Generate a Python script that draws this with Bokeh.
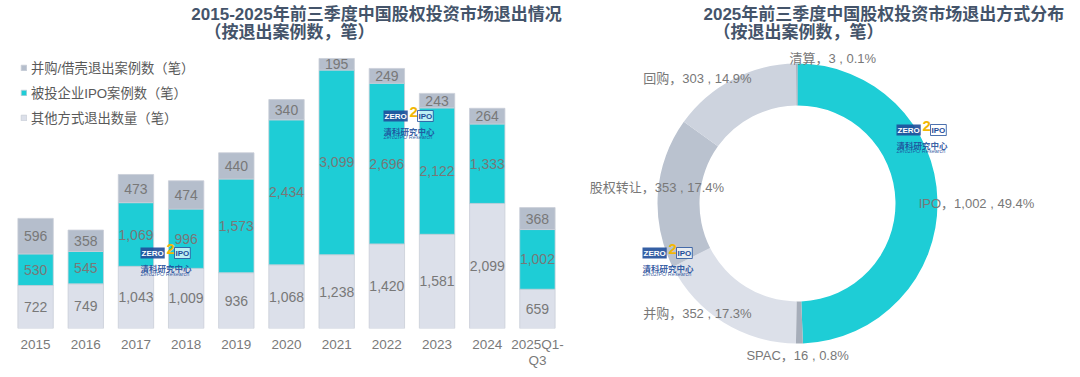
import numpy as np
from bokeh.plotting import figure
from bokeh.models import ColumnDataSource, FactorRange, Range1d, Legend, LegendItem, Label
from bokeh.layouts import row
from bokeh.core.properties import value
from bokeh.embed import file_html
from bokeh.resources import INLINE

# ---------------- data ----------------
years = ["2015", "2016", "2017", "2018", "2019", "2020", "2021", "2022", "2023", "2024", "2025Q1-Q3"]
other_exits = [722, 749, 1043, 1009, 936, 1068, 1238, 1420, 1581, 2099, 659]
ipo_exits = [530, 545, 1069, 996, 1573, 2434, 3099, 2696, 2122, 1333, 1002]
mna_exits = [596, 358, 473, 474, 440, 340, 195, 249, 243, 264, 368]
series_names = ["并购/借壳退出案例数（笔）", "被投企业IPO案例数（笔）", "其他方式退出数量（笔）"]

exit_types = ["IPO", "SPAC", "并购", "股权转让", "回购", "清算"]
exit_counts = [1002, 16, 352, 353, 303, 3]
exit_pcts = ["49.4%", "0.8%", "17.3%", "17.4%", "14.9%", "0.1%"]

title_left = ["2015-2025年前三季度中国股权投资市场退出情况", "（按退出案例数，笔）"]
title_right = ["2025年前三季度中国股权投资市场退出方式分布", "（按退出案例数，笔）"]

# ---------------- styles ----------------
FONT = "Liberation Sans, Noto Sans CJK SC"
C_MNA = "#B5BECC"
C_IPO = "#1ECDD6"
C_OTHER = "#DCE0EA"
TITLE_C = "#44546A"
LAB_C = "#787878"
donut_colors = ["#1ECDD6", "#A6ADB9", "#DCE0E9", "#BAC2CF", "#CDD3DE", "#98A1AF"]
label_offsets = [(29, -3), (-2, -2), (-21, 17), (9, 5), (-31, -8), (36, -5)]

FW1, FH1 = 552, 328   # left frame
FW2, FH2 = 502, 377   # right frame

# axis factors: the long period label wraps onto two lines like the original
factors = [y.replace("Q1-Q3", "Q1-\nQ3") for y in years]


def add_logo(fig, fx, fy):
    blue = "#1F4E9A"
    fig.add_layout(Label(x=fx, y=fy, x_units="screen", y_units="screen", text="ZERO",
                         text_font=FONT, text_font_style="bold", text_font_size="8px",
                         text_color="white", text_baseline="top", text_align="left",
                         background_fill_color=blue, background_fill_alpha=0.9, padding=1))
    fig.add_layout(Label(x=fx + 26, y=fy + 4, x_units="screen", y_units="screen", text="2",
                         text_font=FONT, text_font_style="bold", text_font_size="15px",
                         text_color="#F2B705", text_baseline="top", text_align="left"))
    fig.add_layout(Label(x=fx + 34, y=fy, x_units="screen", y_units="screen", text="IPO",
                         text_font=FONT, text_font_style="bold", text_font_size="8px",
                         text_color=blue, text_baseline="top", text_align="left",
                         background_fill_color="white", background_fill_alpha=0.7,
                         border_line_color=blue, border_line_width=0.8, padding=1))
    fig.add_layout(Label(x=fx, y=fy - 14, x_units="screen", y_units="screen", text="清科研究中心",
                         text_font="Noto Sans CJK SC", text_font_style="bold", text_font_size="8.5px",
                         text_color=blue, text_alpha=0.9, text_baseline="top", text_align="left"))
    fig.add_layout(Label(x=fx, y=fy - 23, x_units="screen", y_units="screen", text="Zero2IPO Research",
                         text_font=FONT, text_font_size="5.5px",
                         text_color=blue, text_alpha=0.9, text_baseline="top", text_align="left"))


# ---------------- left: stacked bars ----------------
p1 = figure(width=578, height=377, frame_width=FW1, frame_height=FH1,
            x_range=FactorRange(*factors), y_range=Range1d(0, 5505),
            y_axis_type=None, toolbar_location=None, output_backend="svg",
            min_border_left=10, min_border_right=16, min_border_top=0, min_border_bottom=49)
p1.outline_line_color = None
p1.xgrid.visible = False

src = ColumnDataSource(dict(year=factors, other=other_exits, ipo=ipo_exits, mna=mna_exits))
rs = p1.vbar_stack(["other", "ipo", "mna"], x="year", width=0.705, source=src,
                   fill_color=[C_OTHER, C_IPO, C_MNA], line_color="#C9CED8", line_width=0.8)

o = np.array(other_exits, dtype=float)
i_ = np.array(ipo_exits, dtype=float)
m = np.array(mna_exits, dtype=float)
lab_src = ColumnDataSource(dict(
    x=factors * 3,
    y=list(o / 2) + list(o + i_ / 2) + list(o + i_ + m / 2),
    t=[f"{v:,}" for v in other_exits + ipo_exits + mna_exits],
))
p1.text(x="x", y="y", text="t", source=lab_src, text_font=value(FONT), text_font_size="14px",
        text_color=LAB_C, text_align="center", text_baseline="middle")

ax = p1.xaxis[0]
ax.axis_line_color = None
ax.major_tick_line_color = None
ax.minor_tick_line_color = None
ax.major_tick_out = 0
ax.major_label_standoff = 8
ax.major_label_text_font = FONT
ax.major_label_text_font_size = "13.5px"
ax.major_label_text_color = "#7A7A7A"
ax.major_label_text_line_height = 1.1

legend = Legend(items=[LegendItem(label=series_names[0], renderers=[rs[2]]),
                       LegendItem(label=series_names[1], renderers=[rs[1]]),
                       LegendItem(label=series_names[2], renderers=[rs[0]])],
                location=(10, 200), padding=0, margin=0, spacing=3, label_height=22,
                glyph_width=7, glyph_height=7, label_standoff=4,
                label_text_font=FONT, label_text_font_size="13.3px", label_text_color="#595959",
                border_line_alpha=0, background_fill_alpha=0)
p1.add_layout(legend)

p1.add_layout(Label(x=366, y=FH1 - 14, x_units="screen", y_units="screen", text=title_left[0],
                    text_font=FONT, text_font_style="bold", text_font_size="17px",
                    text_color=TITLE_C, text_align="center", text_baseline="middle"))
p1.add_layout(Label(x=194, y=FH1 - 32, x_units="screen", y_units="screen", text=title_left[1],
                    text_font=FONT, text_font_style="bold", text_font_size="17px",
                    text_color=TITLE_C, text_align="left", text_baseline="middle"))

add_logo(p1, 130, 81)
add_logo(p1, 373, 218)

# ---------------- right: donut ----------------
cx, cy = 219, 203   # donut centre, pixels from the frame's top-left
p2 = figure(width=FW2, height=FH2, frame_width=FW2, frame_height=FH2,
            x_range=Range1d(-cx, FW2 - cx), y_range=Range1d(-(FH2 - cy), cy),
            x_axis_type=None, y_axis_type=None, toolbar_location=None, output_backend="svg",
            min_border=0)
p2.outline_line_color = None
p2.grid.visible = False

counts = np.array(exit_counts, dtype=float)
frac = counts / counts.sum()
cum = np.concatenate([[0.0], np.cumsum(frac)])
start = np.pi / 2 - cum[1:] * 2 * np.pi
end = np.pi / 2 - cum[:-1] * 2 * np.pi
mid = (cum[:-1] + cum[1:]) / 2 * 2 * np.pi

dsrc = ColumnDataSource(dict(start=start, end=end, color=donut_colors))
p2.annular_wedge(x=0, y=0, inner_radius=98, outer_radius=140, start_angle="start", end_angle="end",
                 fill_color="color", line_color=None, source=dsrc)

r_lab = 150
lx = r_lab * np.sin(mid) + np.array([d[0] for d in label_offsets])
ly = r_lab * np.cos(mid) + np.array([d[1] for d in label_offsets])
ltext = [f"{n}，{c:,} , {pc}" for n, c, pc in zip(exit_types, exit_counts, exit_pcts)]
p2.text(x=lx, y=ly, text=ltext, text_font=value(FONT), text_font_size="13px",
        text_color=LAB_C, text_align="center", text_baseline="middle")

p2.add_layout(Label(x=125, y=FH2 - 14, x_units="screen", y_units="screen", text=title_right[0],
                    text_font=FONT, text_font_style="bold", text_font_size="17px",
                    text_color=TITLE_C, text_align="left", text_baseline="middle"))
p2.add_layout(Label(x=135, y=FH2 - 32, x_units="screen", y_units="screen", text=title_right[1],
                    text_font=FONT, text_font_style="bold", text_font_size="17px",
                    text_color=TITLE_C, text_align="left", text_baseline="middle"))

add_logo(p2, 318, 253)
add_logo(p2, 64, 130)

layout = row(p1, p2)
open("out.html", "w").write(file_html(layout, INLINE))
